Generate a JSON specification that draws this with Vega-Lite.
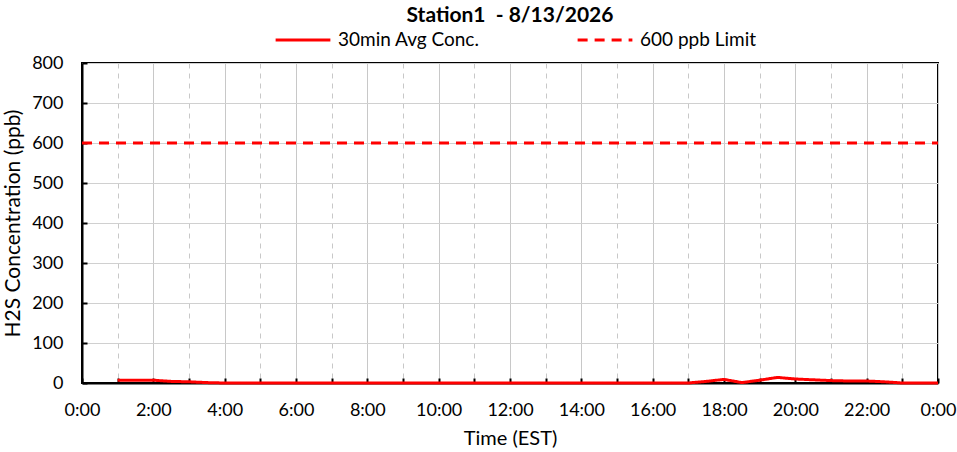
{
  "$schema": "https://vega.github.io/schema/vega-lite/v6.json",
  "autosize": {"type": "none"},
  "width": 856,
  "height": 320,
  "padding": {"left": 82, "top": 63, "right": 19, "bottom": 69},
  "background": "white",
  "config": {
    "font": "Lato",
    "view": {"stroke": "black", "strokeWidth": 2}
  },
  "title": {
    "text": "Station1 \u00a0- 8/13/2026",
    "font": "Lato",
    "fontSize": 21,
    "fontWeight": "bold",
    "color": "black",
    "anchor": "middle",
    "offset": 0,
    "dy": 15
  },
  "datasets": {
    "conc": [
      {"hour": 1.0, "ppb": 7, "series": "30min Avg Conc."},
      {"hour": 1.5, "ppb": 7, "series": "30min Avg Conc."},
      {"hour": 2.0, "ppb": 7, "series": "30min Avg Conc."},
      {"hour": 2.5, "ppb": 4, "series": "30min Avg Conc."},
      {"hour": 3.0, "ppb": 3, "series": "30min Avg Conc."},
      {"hour": 3.5, "ppb": 1, "series": "30min Avg Conc."},
      {"hour": 4.0, "ppb": 0, "series": "30min Avg Conc."},
      {"hour": 4.5, "ppb": 0, "series": "30min Avg Conc."},
      {"hour": 5.0, "ppb": 0, "series": "30min Avg Conc."},
      {"hour": 5.5, "ppb": 0, "series": "30min Avg Conc."},
      {"hour": 6.0, "ppb": 0, "series": "30min Avg Conc."},
      {"hour": 6.5, "ppb": 0, "series": "30min Avg Conc."},
      {"hour": 7.0, "ppb": 0, "series": "30min Avg Conc."},
      {"hour": 7.5, "ppb": 0, "series": "30min Avg Conc."},
      {"hour": 8.0, "ppb": 0, "series": "30min Avg Conc."},
      {"hour": 8.5, "ppb": 0, "series": "30min Avg Conc."},
      {"hour": 9.0, "ppb": 0, "series": "30min Avg Conc."},
      {"hour": 9.5, "ppb": 0, "series": "30min Avg Conc."},
      {"hour": 10.0, "ppb": 0, "series": "30min Avg Conc."},
      {"hour": 10.5, "ppb": 0, "series": "30min Avg Conc."},
      {"hour": 11.0, "ppb": 0, "series": "30min Avg Conc."},
      {"hour": 11.5, "ppb": 0, "series": "30min Avg Conc."},
      {"hour": 12.0, "ppb": 0, "series": "30min Avg Conc."},
      {"hour": 12.5, "ppb": 0, "series": "30min Avg Conc."},
      {"hour": 13.0, "ppb": 0, "series": "30min Avg Conc."},
      {"hour": 13.5, "ppb": 0, "series": "30min Avg Conc."},
      {"hour": 14.0, "ppb": 0, "series": "30min Avg Conc."},
      {"hour": 14.5, "ppb": 0, "series": "30min Avg Conc."},
      {"hour": 15.0, "ppb": 0, "series": "30min Avg Conc."},
      {"hour": 15.5, "ppb": 0, "series": "30min Avg Conc."},
      {"hour": 16.0, "ppb": 0, "series": "30min Avg Conc."},
      {"hour": 16.5, "ppb": 0, "series": "30min Avg Conc."},
      {"hour": 17.0, "ppb": 0, "series": "30min Avg Conc."},
      {"hour": 17.5, "ppb": 4, "series": "30min Avg Conc."},
      {"hour": 18.0, "ppb": 9, "series": "30min Avg Conc."},
      {"hour": 18.5, "ppb": 1, "series": "30min Avg Conc."},
      {"hour": 19.0, "ppb": 7, "series": "30min Avg Conc."},
      {"hour": 19.5, "ppb": 14, "series": "30min Avg Conc."},
      {"hour": 20.0, "ppb": 10, "series": "30min Avg Conc."},
      {"hour": 20.5, "ppb": 8, "series": "30min Avg Conc."},
      {"hour": 21.0, "ppb": 6, "series": "30min Avg Conc."},
      {"hour": 21.5, "ppb": 5, "series": "30min Avg Conc."},
      {"hour": 22.0, "ppb": 5, "series": "30min Avg Conc."},
      {"hour": 22.5, "ppb": 3, "series": "30min Avg Conc."},
      {"hour": 23.0, "ppb": 0, "series": "30min Avg Conc."},
      {"hour": 23.5, "ppb": 0, "series": "30min Avg Conc."},
      {"hour": 24.0, "ppb": 0, "series": "30min Avg Conc."}
    ],
    "limit": [
      {"hour": 0, "ppb": 600, "series": "600 ppb Limit"},
      {"hour": 24, "ppb": 600, "series": "600 ppb Limit"}
    ]
  },
  "encoding": {
    "x": {
      "field": "hour",
      "type": "quantitative",
      "scale": {"domain": [0, 24], "nice": false, "zero": false},
      "title": "Time (EST)",
      "axis": {
        "values": [0, 1, 2, 3, 4, 5, 6, 7, 8, 9, 10, 11, 12, 13, 14, 15, 16, 17, 18, 19, 20, 21, 22, 23, 24],
        "labelExpr": "datum.value % 2 ? '' : (datum.value == 24 ? '0:00' : datum.value + ':00')",
        "labelFont": "Lato",
        "labelFontSize": 18,
        "labelColor": "black",
        "labelPadding": 23,
        "labelFlush": false,
        "titleFont": "Lato",
        "titleFontSize": 20,
        "titleFontWeight": "normal",
        "titleColor": "black",
        "titlePadding": 9,
        "domainColor": "black",
        "domainWidth": 2,
        "tickColor": "black",
        "tickWidth": 2,
        "tickSize": -5,
        "grid": true,
        "gridColor": "#c8c8c8",
        "gridWidth": 1,
        "gridDash": {"condition": {"test": "datum.value % 2 == 1", "value": [5, 5]}, "value": []}
      }
    },
    "y": {
      "field": "ppb",
      "type": "quantitative",
      "scale": {"domain": [0, 800], "nice": false},
      "title": "H2S Concentration (ppb)",
      "axis": {
        "values": [0, 100, 200, 300, 400, 500, 600, 700, 800],
        "labelFont": "Lato",
        "labelFontSize": 18,
        "labelColor": "black",
        "labelPadding": 24,
        "titleFont": "Lato",
        "titleFontSize": 21,
        "titleFontWeight": "normal",
        "titleColor": "black",
        "titlePadding": 8,
        "domainColor": "black",
        "domainWidth": 2,
        "tickColor": "black",
        "tickWidth": 2,
        "tickSize": -5,
        "grid": true,
        "gridColor": "#d0d0d0",
        "gridWidth": 1
      }
    },
    "color": {
      "field": "series",
      "type": "nominal",
      "scale": {"domain": ["30min Avg Conc.", "600 ppb Limit"], "range": ["#ff0000", "#ff0000"]},
      "legend": {
        "title": null,
        "orient": "none",
        "direction": "horizontal",
        "legendX": 192,
        "legendY": -52,
        "symbolType": "stroke",
        "symbolSize": 3000,
        "symbolStrokeWidth": 3,
        "labelFont": "Lato",
        "labelFontSize": 19,
        "labelColor": "black",
        "labelOffset": 6,
        "columnPadding": 91
      }
    },
    "strokeDash": {
      "field": "series",
      "type": "nominal",
      "scale": {"domain": ["30min Avg Conc.", "600 ppb Limit"], "range": [[1, 0], [10, 7]]},
      "legend": null
    }
  },
  "layer": [
    {"data": {"name": "limit"}, "mark": {"type": "line", "strokeWidth": 3}},
    {"data": {"name": "conc"}, "mark": {"type": "line", "strokeWidth": 3}}
  ]
}
